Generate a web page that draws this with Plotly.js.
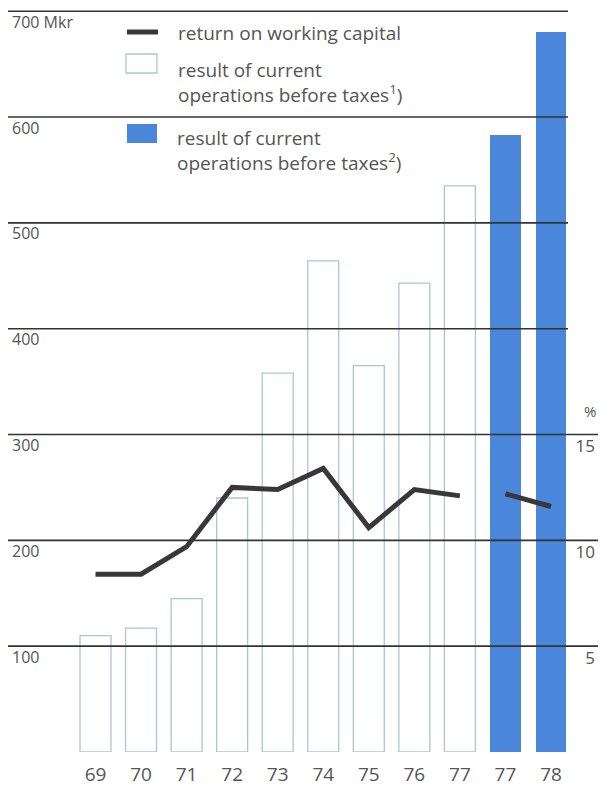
<!DOCTYPE html>
<html>
<head>
<meta charset="utf-8">
<script src="https://cdn.plot.ly/plotly-3.0.1.min.js"></script>
<style>
html,body{margin:0;padding:0;background:#fff;}
#chart{width:601px;height:787px;}
</style>
</head>
<body>
<div id="chart"></div>
<script>
// ---- data ----
const yearLabels = ["69","70","71","72","73","74","75","76","77","77","78"];
const resultBefore1 = [110, 117, 145, 240, 358, 464, 365, 443, 535];      // Mkr, outlined bars (69-77)
const resultBefore2 = [583, 680];                                          // Mkr, filled bars (77, 78)
const returnWC1 = [8.4, 8.4, 9.7, 12.5, 12.4, 13.4, 10.6, 12.4, 12.1];    // %, 69-77
const returnWC2 = [12.2, 11.6];                                            // %, 77, 78
const leftTicks = [100, 200, 300, 400, 500, 600, 700];
const leftTickText = ["100", "200", "300", "400", "500", "600", "700 Mkr"];
const rightTicks = [5, 10, 15];
const rightTickText = ["5", "10", "15"];
const legendLabels = [
  "return on working capital",
  "result of current<br>operations before taxes<sup>1</sup>)",
  "result of current<br>operations before taxes<sup>2</sup>)"
];

// ---- positions ----
const idx = yearLabels.map((_, i) => i);
const x1 = idx.slice(0, resultBefore1.length);
const x2 = idx.slice(resultBefore1.length);

const FONT = "'Open Sans', Lato, sans-serif";
const TXT = "#555555";
const DARK = "#3b3739";
const BLUE = "#4a86da";
const OUTLINE = "#a9c6d8";

const W = 601, H = 787;
const mL = 8, mR = 3, mT = 0, mB = 35;
const plotW = W - mL - mR, plotH = H - mT - mB;
const pxPerCat = 45.55;
const firstCenter = 95.5 - mL;
const xr0 = -firstCenter / pxPerCat;
const xr1 = xr0 + plotW / pxPerCat;
const pxPerMkr = 1.0583;
const yTop = plotH / pxPerMkr;

const traces = [
  {type: "bar", x: x1, y: resultBefore1, width: 0.68, name: "result1",
   marker: {color: "rgba(255,255,255,0)", line: {color: OUTLINE, width: 1.3}},
   showlegend: false, hoverinfo: "y"},
  {type: "bar", x: x2, y: resultBefore2, width: 0.68, name: "result2",
   marker: {color: BLUE, line: {width: 0}},
   showlegend: false, hoverinfo: "y"},
  {type: "scatter", mode: "lines", x: x1, y: returnWC1, yaxis: "y2",
   line: {color: DARK, width: 5}, showlegend: false, hoverinfo: "y"},
  {type: "scatter", mode: "lines", x: x2, y: returnWC2, yaxis: "y2",
   line: {color: DARK, width: 5}, showlegend: false, hoverinfo: "y"}
];

// gridlines drawn above bars
const shapes = leftTicks.map(v => ({
  type: "line", xref: "paper", yref: "y",
  x0: 0, x1: v <= 300 ? 1 : (568 - mL) / plotW,
  y0: v, y1: v, layer: "above",
  line: {color: "#333333", width: 1.6}
}));

// legend symbols (paper coords)
function px(xp){ return (xp - mL) / plotW; }
function py(yp){ return 1 - (yp - mT) / plotH; }
shapes.push({type: "line", xref: "paper", yref: "paper",
  x0: px(127), x1: px(158), y0: py(32), y1: py(32), line: {color: DARK, width: 5}});
shapes.push({type: "rect", xref: "paper", yref: "paper",
  x0: px(126), x1: px(157), y0: py(54), y1: py(73),
  line: {color: OUTLINE, width: 1.3}, fillcolor: "rgba(0,0,0,0)"});
shapes.push({type: "rect", xref: "paper", yref: "paper",
  x0: px(127), x1: px(157), y0: py(124), y1: py(143),
  line: {width: 0}, fillcolor: BLUE});

const annotations = [
  {text: legendLabels[0], xref: "paper", yref: "paper", x: px(176), y: py(33),
   xanchor: "left", yanchor: "middle", showarrow: false, align: "left",
   font: {family: FONT, size: 19, color: TXT}},
  {text: legendLabels[1], xref: "paper", yref: "paper", x: px(176), y: py(55),
   xanchor: "left", yanchor: "top", showarrow: false, align: "left",
   font: {family: FONT, size: 19, color: TXT}},
  {text: legendLabels[2], xref: "paper", yref: "paper", x: px(175), y: py(123),
   xanchor: "left", yanchor: "top", showarrow: false, align: "left",
   font: {family: FONT, size: 19, color: TXT}},
  {text: "%", xref: "paper", yref: "paper", x: 1, y: py(411),
   xanchor: "right", yanchor: "middle", showarrow: false,
   font: {family: FONT, size: 15, color: TXT}}
];

const layout = {
  width: W, height: H,
  margin: {l: mL, r: mR, t: mT, b: mB, pad: 0},
  paper_bgcolor: "#ffffff", plot_bgcolor: "#ffffff",
  showlegend: false,
  bargap: 0,
  xaxis: {range: [xr0, xr1], tickvals: idx, ticktext: yearLabels,
    showgrid: false, zeroline: false, showline: false, ticks: "",
    ticklabelstandoff: 9,
    tickfont: {family: FONT, size: 19, color: TXT}, fixedrange: true},
  yaxis: {range: [0, yTop], tickvals: leftTicks, ticktext: leftTickText,
    showgrid: false, zeroline: false, showline: false, ticks: "",
    ticklabelposition: "inside", ticklabelshift: 11, ticklabelstandoff: 1,
    tickfont: {family: FONT, size: 16, color: TXT}, fixedrange: true},
  yaxis2: {range: [0, yTop / 20], overlaying: "y", side: "right",
    tickvals: rightTicks, ticktext: rightTickText,
    showgrid: false, zeroline: false, showline: false, ticks: "",
    ticklabelposition: "inside", ticklabelshift: 12, ticklabelstandoff: 0,
    tickfont: {family: FONT, size: 17, color: TXT}, fixedrange: true},
  shapes: shapes,
  annotations: annotations
};

Plotly.newPlot("chart", traces, layout, {displayModeBar: false, staticPlot: true});
</script>
</body>
</html>
